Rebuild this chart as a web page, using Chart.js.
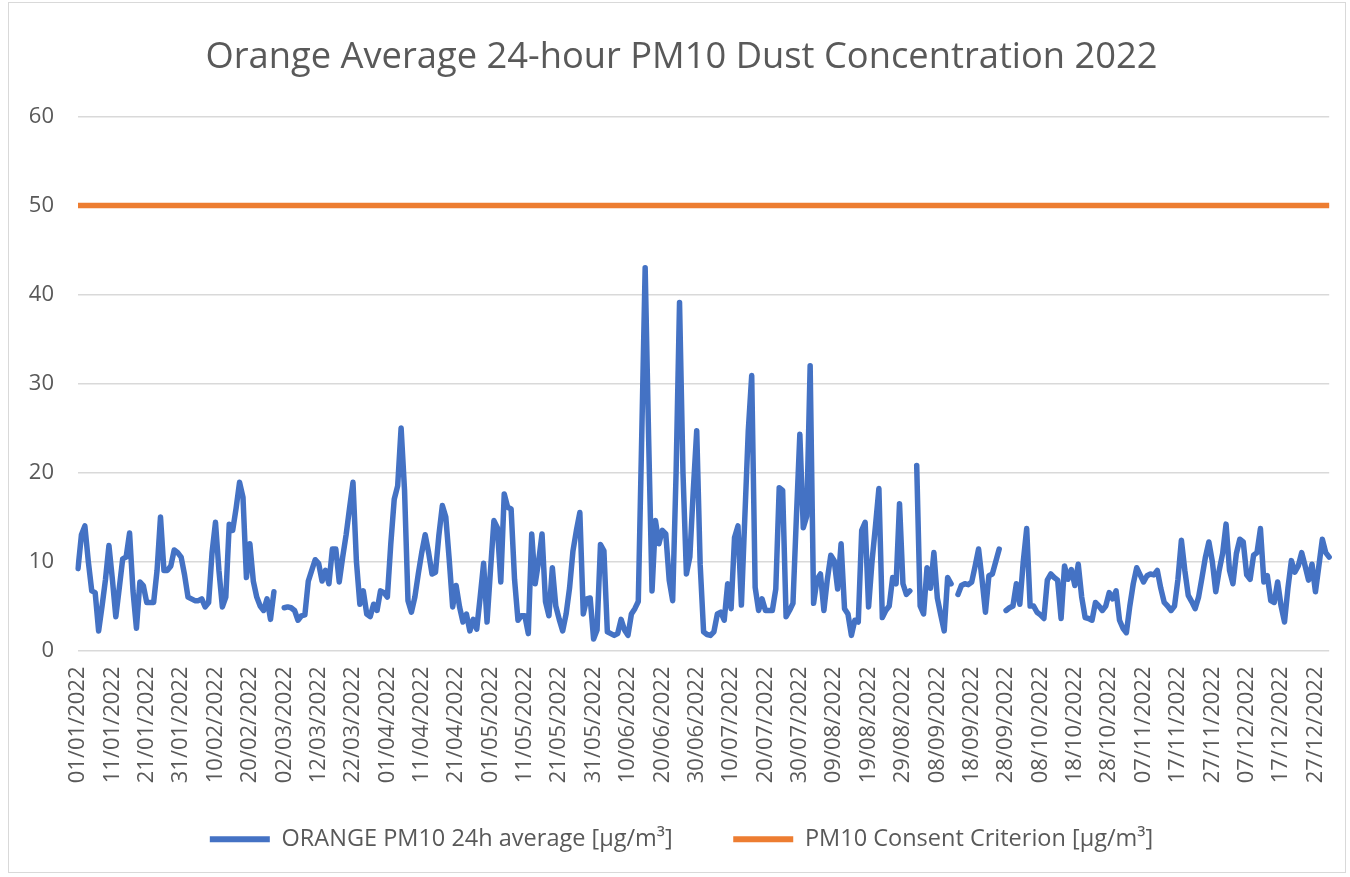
<!DOCTYPE html>
<html>
<head>
<meta charset="utf-8">
<script src="https://cdn.jsdelivr.net/npm/chart.js@4"></script>
<style>
  html, body { margin: 0; padding: 0; background: #fff; }
  #frame { position: absolute; left: 8px; top: 2px; width: 1336px; height: 869px; border: 1px solid #d9d9d9; }
  #pm10Chart { position: absolute; left: 0; top: 0; }
</style>
</head>
<body>
<div id="frame"></div>
<canvas id="pm10Chart" width="1350" height="877"></canvas>
<script>
// daily 24h averages, one array per month (null = no data)
const jan = [9.2, 13, 14, 10, 6.7, 6.5, 2.2, 5, 8, 11.8, 8, 3.8, 7, 10.3, 10.5, 13.2, 6.7, 2.5, 7.7, 7.3, 5.4, 5.4, 5.4, 9, 15, 9, 9, 9.5, 11.3, 11, 10.5];
const feb = [8.5, 6, 5.8, 5.6, 5.6, 5.8, 4.9, 5.4, 11, 14.4, 9, 4.9, 6, 14.2, 13.5, 16, 18.9, 17.2, 8.2, 12, 7.8, 6, 5, 4.5, 5.8, 3.5, 6.6, null];
const mar = [null, 4.8, 4.9, 4.8, 4.5, 3.4, 3.9, 4, 7.8, 9, 10.2, 9.8, 7.8, 9, 7.5, 11.4, 11.4, 7.7, 10.5, 13, 16, 18.9, 10, 5.2, 6.7, 4.1, 3.8, 5.2, 4.5, 6.7, 6.5];
const apr = [6, 12, 17, 18.5, 25, 18, 5.6, 4.3, 6, 8.6, 11, 13, 11, 8.6, 8.8, 13, 16.3, 15, 10.2, 4.9, 7.3, 4.9, 3.2, 4.1, 2.2, 3.5, 2.4, 6, 9.8, 3.2];
const may = [9, 14.6, 13.8, 7.7, 17.6, 16.1, 15.9, 8, 3.4, 3.9, 3.9, 1.9, 13.1, 7.5, 10, 13.1, 5.5, 3.9, 9.3, 5, 3.5, 2.2, 4.1, 7, 11.2, 13.5, 15.5, 4.1, 5.8, 5.9, 1.3];
const jun = [2.3, 11.9, 11.2, 2.1, 1.9, 1.7, 1.9, 3.5, 2.3, 1.7, 4.1, 4.7, 5.5, 24, 43, 24, 6.7, 14.6, 12, 13.5, 13.1, 7.9, 5.6, 20, 39.1, 20, 8.6, 10.5, 18, 24.7];
const jul = [9.7, 2.1, 1.8, 1.7, 2.1, 4.1, 4.3, 3.4, 7.5, 4.7, 12.7, 14, 5.1, 15, 24.7, 30.9, 7.1, 4.5, 5.8, 4.5, 4.5, 4.5, 6.9, 18.3, 18, 3.8, 4.5, 5.3, 15, 24.3, 13.8];
const aug = [15.1, 32, 5.3, 8, 8.6, 4.5, 8, 10.7, 10.1, 6.9, 12, 4.7, 4.1, 1.7, 3.4, 3.2, 13.5, 14.4, 4.9, 10, 14, 18.2, 3.7, 4.5, 5, 8.2, 7.5, 16.5, 7.5, 6.3, 6.7];
const sep = [null, 20.8, 5, 4.1, 9.3, 7, 11, 5.9, 4, 2.2, 8.2, 7.5, null, 6.3, 7.3, 7.5, 7.4, 7.7, 9.5, 11.4, 8, 4.3, 8.4, 8.6, 10, 11.4, null, 4.5, 4.8, 5];
const oct = [7.5, 5.2, 10, 13.7, 5, 5, 4.3, 4, 3.6, 7.9, 8.6, 8.2, 7.9, 3.6, 9.5, 8, 9.1, 7.3, 9.7, 6, 3.7, 3.6, 3.4, 5.4, 5, 4.5, 5, 6.5, 5.8, 6.7, 3.4];
const nov = [2.5, 2, 5, 7.5, 9.3, 8.5, 7.7, 8.4, 8.6, 8.5, 9, 7, 5.4, 5, 4.5, 5, 8, 12.4, 9, 6.2, 5.5, 4.7, 6, 8.2, 10.5, 12.2, 10, 6.6, 9, 10.9];
const dec = [14.2, 9, 7.5, 10.9, 12.5, 12.2, 8.5, 8, 10.7, 11, 13.7, 7.7, 8.4, 5.6, 5.4, 7.7, 5, 3.2, 7, 10.1, 8.8, 9.5, 11, 9.5, 7.9, 9.7, 6.6, 9.5, 12.5, 11, 10.5];

const consentCriterion = 50;
const yTicks = [0, 10, 20, 30, 40, 50, 60];

const pm10Values = [].concat(jan, feb, mar, apr, may, jun, jul, aug, sep, oct, nov, dec);

// one label per day of 2022, dd/mm/yyyy
const dayLabels = [];
for (let i = 0; i < pm10Values.length; i++) {
  let d = new Date(Date.UTC(2022, 0, 1 + i));
  let dd = String(d.getUTCDate()).padStart(2, "0");
  let mm = String(d.getUTCMonth() + 1).padStart(2, "0");
  dayLabels.push(dd + "/" + mm + "/" + d.getUTCFullYear());
}
const criterionValues = dayLabels.map(() => consentCriterion);

const fontName = "'Open Sans', sans-serif";
const grey = "#595959";

let ctx = document.getElementById("pm10Chart").getContext("2d");

var pm10Chart = new Chart(ctx, {
  type: "line",
  data: {
    labels: dayLabels,
    datasets: [
      {
        label: "ORANGE PM10 24h average [μg/m³]",
        data: pm10Values,
        borderColor: "#4472C4",
        backgroundColor: "#4472C4",
        borderWidth: 5.5,
        pointRadius: 0,
        tension: 0,
        spanGaps: false,
        borderCapStyle: "round",
        borderJoinStyle: "round",
      },
      {
        label: "PM10 Consent Criterion [μg/m³]",
        data: criterionValues,
        borderColor: "#ED7D31",
        backgroundColor: "#ED7D31",
        borderWidth: 5.5,
        pointRadius: 0,
      },
    ],
  },
  options: {
    responsive: false,
    animation: false,
    layout: { padding: { left: 28, right: 15, top: 0, bottom: 16 } },
    plugins: {
      title: {
        display: true,
        text: "Orange Average 24-hour PM10 Dust Concentration 2022",
        color: grey,
        font: { family: fontName, size: 36.3, weight: "normal" },
        padding: { top: 36, bottom: 37 },
      },
      legend: {
        position: "bottom",
        labels: {
          color: grey,
          font: { family: fontName, size: 23.5 },
          boxWidth: 60,
          boxHeight: 6,
          padding: 30,
          // trailing spaces on the first entry widen the gap between the two items
          generateLabels: (chart) =>
            chart.data.datasets.map((ds, i) => ({
              text: i === 0 ? ds.label + "     " : ds.label,
              fillStyle: ds.borderColor,
              strokeStyle: ds.borderColor,
              lineWidth: 0,
              fontColor: grey,
              hidden: false,
              datasetIndex: i,
            })),
        },
      },
      tooltip: { enabled: false },
    },
    scales: {
      x: {
        grid: { display: false },
        border: { display: false },
        ticks: {
          autoSkip: false,
          maxRotation: 90,
          minRotation: 90,
          padding: 8,
          color: grey,
          font: { family: fontName, size: 22 },
          callback: (val, i) => (i % 10 === 0 ? dayLabels[i] : null),
        },
        afterFit: (scale) => {
          scale.height = 147;
        },
      },
      y: {
        min: 0,
        max: 60,
        afterBuildTicks: (scale) => {
          scale.ticks = yTicks.map((v) => ({ value: v }));
        },
        grid: { color: "#d9d9d9", lineWidth: 1.5, drawTicks: false },
        border: { display: false },
        ticks: {
          padding: 24,
          color: grey,
          font: { family: fontName, size: 22 },
        },
        afterFit: (scale) => {
          scale.width = 50;
        },
      },
    },
  },
});
</script>
</body>
</html>
